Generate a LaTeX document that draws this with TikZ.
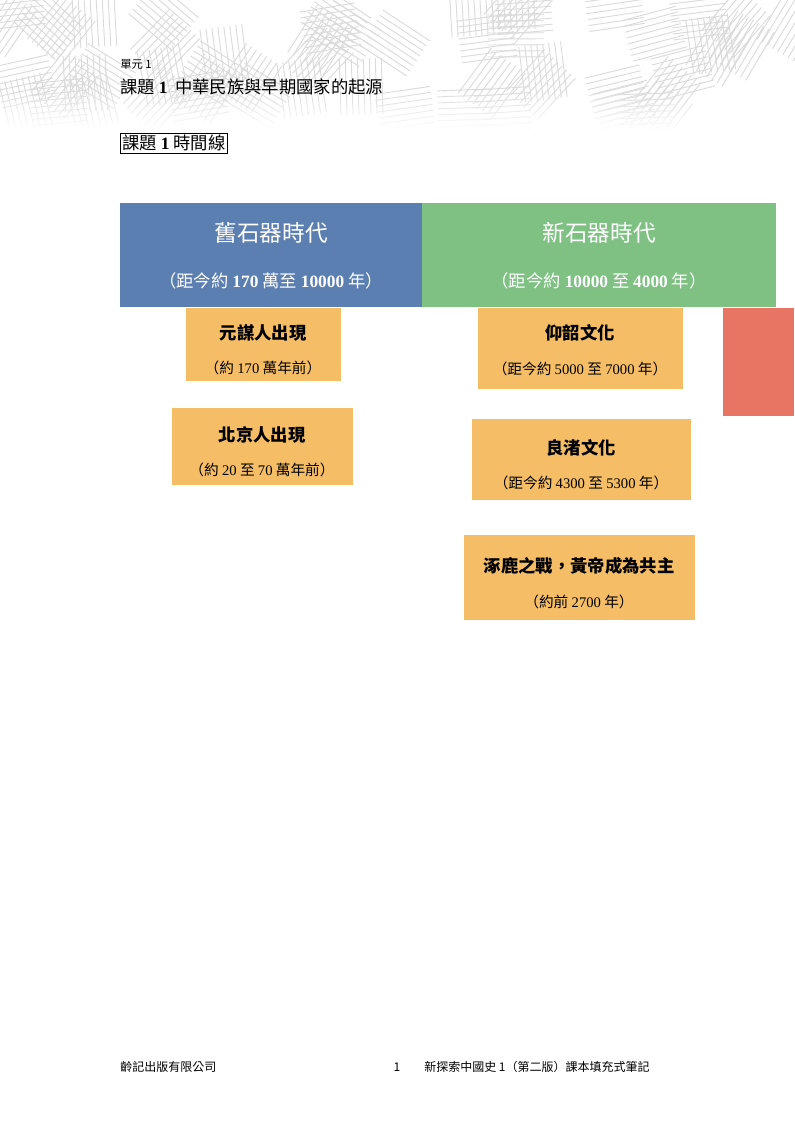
\documentclass[tikz,border=0pt]{standalone}
\usepackage{fontspec}
\usetikzlibrary{fadings}
\setmainfont{Liberation Serif}
\newfontfamily\cjk{Noto Sans CJK TC}
\definecolor{bluebox}{RGB}{92,127,178}
\definecolor{greenbox}{RGB}{126,193,131}
\definecolor{orangebox}{RGB}{245,190,102}
\definecolor{redbox}{RGB}{232,117,99}
\tikzset{px/.style={x=0.75pt,y=-0.75pt},
 era/.style={inner sep=0,text=white,align=center},
 ev/.style={fill=orangebox,draw=none},
 lbl/.style={inner sep=0,anchor=center}}
\begin{document}
\begin{tikzpicture}[px]
\useasboundingbox (0,0) rectangle (794,1123);
\fill[white] (0,0) rectangle (794,1123);
% header pattern
\pgfmathsetseed{7}
\foreach \i in {0,...,55}{
 \pgfmathsetmacro{\cx}{rnd*800}
 \pgfmathsetmacro{\cy}{rnd*115}
 \pgfmathsetmacro{\ang}{int(rnd*4)*45+rnd*15}
 \begin{scope}[shift={(\cx,\cy)},rotate=\ang]
  \foreach \k in {0,...,7}{\draw[black!14,line width=0.7pt] (-28,\k*6-21) -- (28,\k*6-21);}
 \end{scope}
}
\fill[white,path fading=north] (-5,90) rectangle (800,130);
\fill[white] (-5,130) rectangle (800,150);
\node[lbl,anchor=west] (unit) at (120,64) {\cjk\fontsize{8.5pt}{9pt}\selectfont 單元 1};
\node[lbl,anchor=west] (title) at (120,87) {\cjk\fontsize{13pt}{14pt}\selectfont 課題 \textrm{\textbf{1}}\ \ 中華民族與早期國家的起源};
\node[draw,line width=0.6pt,inner sep=1.5pt,anchor=west] (tl) at (120,143) {\cjk\fontsize{13pt}{14pt}\selectfont 課題 \textrm{\textbf{1}} 時間線};
% eras
\fill[bluebox] (120,203) rectangle (422,307);
\fill[greenbox] (422,203) rectangle (776,307);
\node[era] (old) at (271,233) {\cjk\fontsize{17pt}{18pt}\selectfont 舊石器時代};
\node[era] (oldd) at (271,281) {\cjk\fontsize{13pt}{14pt}\selectfont （距今約 \textrm{\textbf{170}} 萬至 \textrm{\textbf{10000}} 年）};
\node[era] (new) at (599,233) {\cjk\fontsize{17pt}{18pt}\selectfont 新石器時代};
\node[era] (newd) at (599,281) {\cjk\fontsize{13pt}{14pt}\selectfont （距今約 \textrm{\textbf{10000}} 至 \textrm{\textbf{4000}} 年）};
\fill[redbox] (723,308) rectangle (794,416);
% events
\fill[ev] (186,308) rectangle (341,381);
\node[lbl] (a1) at (263,333) {\cjk\fontsize{13pt}{14pt}\selectfont\bfseries 元謀人出現};
\node[lbl] (a2) at (263,368) {\cjk\fontsize{11pt}{12pt}\selectfont （約 \textrm{170} 萬年前）};
\fill[ev] (172,408) rectangle (353,485);
\node[lbl] (b1) at (262,435) {\cjk\fontsize{13pt}{14pt}\selectfont\bfseries 北京人出現};
\node[lbl] (b2) at (262,470) {\cjk\fontsize{11pt}{12pt}\selectfont （約 \textrm{20} 至 \textrm{70} 萬年前）};
\fill[ev] (478,308) rectangle (683,389);
\node[lbl] (c1) at (580,333) {\cjk\fontsize{13pt}{14pt}\selectfont\bfseries 仰韶文化};
\node[lbl] (c2) at (580,369) {\cjk\fontsize{11pt}{12pt}\selectfont （距今約 \textrm{5000} 至 \textrm{7000} 年）};
\fill[ev] (472,419) rectangle (691,500);
\node[lbl] (d1) at (581,448) {\cjk\fontsize{13pt}{14pt}\selectfont\bfseries 良渚文化};
\node[lbl] (d2) at (581,483) {\cjk\fontsize{11pt}{12pt}\selectfont （距今約 \textrm{4300} 至 \textrm{5300} 年）};
\fill[ev] (464,535) rectangle (695,620);
\node[lbl] (e1) at (579,566) {\cjk\fontsize{13pt}{14pt}\selectfont\bfseries 涿鹿之戰，黃帝成為共主};
\node[lbl] (e2) at (579,602) {\cjk\fontsize{11pt}{12pt}\selectfont （約前 \textrm{2700} 年）};
% footer
\node[lbl,anchor=west] (f1) at (120,1067) {\cjk\fontsize{9pt}{10pt}\selectfont 齡記出版有限公司};
\node[lbl] (f2) at (397,1067) {\cjk\fontsize{9pt}{10pt}\selectfont 1};
\node[lbl,anchor=west] (f3) at (424,1067) {\cjk\fontsize{9pt}{10pt}\selectfont 新探索中國史 1（第二版）課本填充式筆記};
\end{tikzpicture}
\end{document}
